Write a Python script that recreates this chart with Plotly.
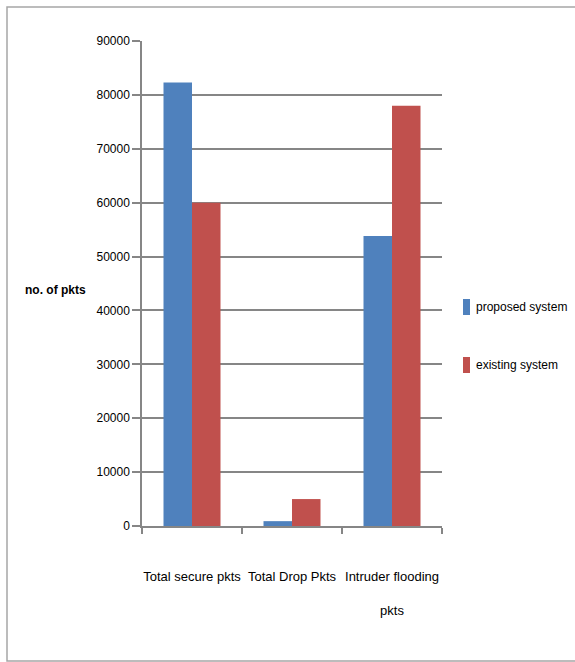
import plotly.graph_objects as go

categories = ["Total secure pkts", "Total Drop Pkts", "Intruder flooding<br><br>pkts"]
proposed = [82300, 900, 53800]
existing = [60000, 5000, 78000]
series_names = ["proposed system", "existing system"]
colors = ["#4F81BD", "#C0504D"]
y_ticks = list(range(0, 90001, 10000))

FONT = "Liberation Sans, Arial, sans-serif"
FS = 12

W, H = 575, 662
L, R, T, B = 142, 133, 41, 136
pw, ph = W - L - R, H - T - B

def px_x(p):
    return (p - L) / pw

def px_y(p):
    return (H - B - p) / ph

fig = go.Figure()
for name, vals, c in zip(series_names, [proposed, existing], colors):
    fig.add_trace(go.Bar(
        x=categories, y=vals, name=name,
        marker=dict(color=c, line=dict(width=0)),
    ))

fig.update_layout(
    width=W, height=H,
    margin=dict(l=L, r=R, t=T, b=B, autoexpand=False),
    paper_bgcolor="white", plot_bgcolor="white",
    barmode="group", bargap=0.43, bargroupgap=0,
    font=dict(family=FONT, size=FS, color="#000000"),
    showlegend=False,
    xaxis=dict(showline=True, linecolor="#868686", linewidth=1.5,
               ticks="outside", tickson="boundaries", ticklen=6,
               tickcolor="#868686", tickwidth=1.5, tickangle=0,
               ticklabelstandoff=38, tickfont=dict(size=13, family=FONT)),
    yaxis=dict(range=[0, 90000], tickvals=y_ticks,
               ticktext=[str(v) for v in y_ticks],
               showline=True, linecolor="#868686", linewidth=1.5,
               ticks="outside", ticklen=8, tickcolor="#868686", tickwidth=1.5,
               showgrid=True, gridcolor="#868686", gridwidth=1.5,
               zeroline=False, tickfont=dict(size=FS, family=FONT)),
)

fig.add_annotation(text="<b>no. of pkts</b>", xref="paper", yref="paper",
                   x=px_x(55), y=px_y(290), xanchor="center", yanchor="middle",
                   showarrow=False, font=dict(size=FS, family=FONT))

# legend drawn manually so it does not shrink the plot area
leg_y = [307, 365]
for name, c, cy in zip(series_names, colors, leg_y):
    fig.add_shape(type="rect", xref="paper", yref="paper",
                  x0=px_x(463), x1=px_x(470), y0=px_y(cy + 8), y1=px_y(cy - 8),
                  fillcolor=c, line=dict(width=0))
    fig.add_annotation(text=name, xref="paper", yref="paper",
                       x=px_x(474), y=px_y(cy), xanchor="left", yanchor="middle",
                       showarrow=False, font=dict(size=FS, family=FONT))

fig.add_shape(type="rect", xref="paper", yref="paper",
              x0=px_x(7), x1=px_x(590), y0=px_y(661), y1=px_y(7),
              line=dict(color="#A6A6A6", width=1.5), layer="below")

fig.write_html("out.html")
